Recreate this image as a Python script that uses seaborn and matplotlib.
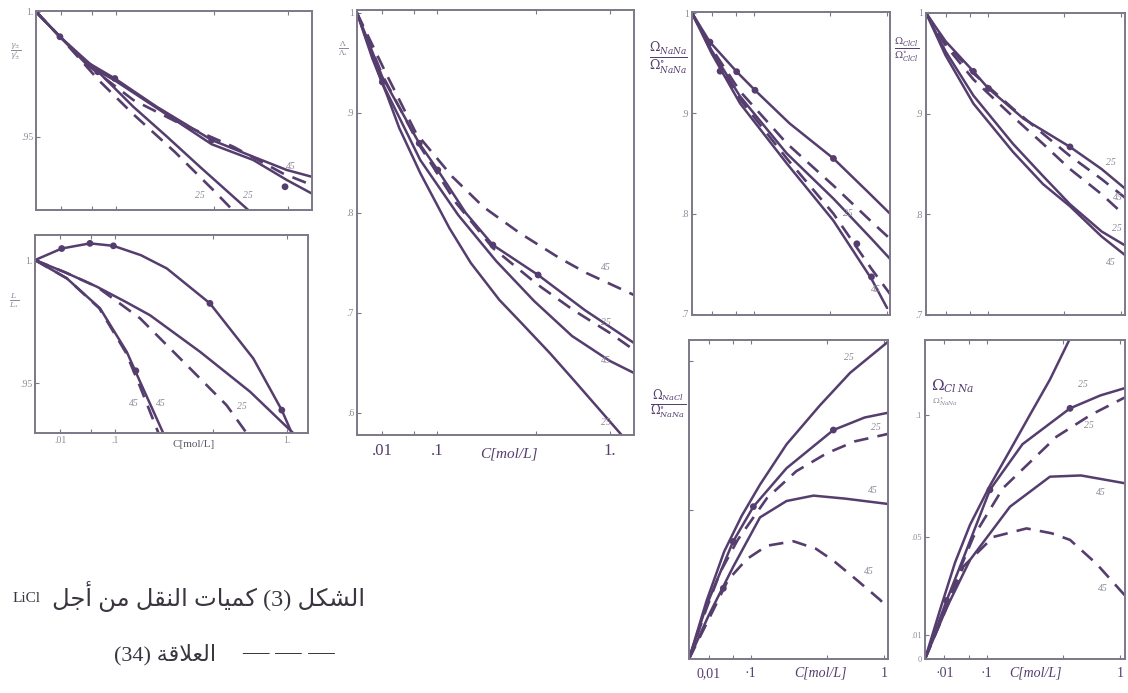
import numpy as np
import matplotlib
matplotlib.use("Agg")
import matplotlib.pyplot as plt
import seaborn as sns

# x of every curve is sqrt(C), C in mol/L ; y is the reduced quantity
# ---- panel A : gamma / gamma0
a45_x = [0, 0.095, 0.2, 0.313, 0.479, 0.697, 0.862, 0.995, 1.094]
a45_y = [1, 0.990, 0.980, 0.9733, 0.962, 0.9487, 0.942, 0.9367, 0.934]
a45b_x = [0, 0.095, 0.2, 0.313, 0.479, 0.697, 0.862, 0.995, 1.094]
a45b_y = [1, 0.990, 0.979, 0.9725, 0.9615, 0.947, 0.9407, 0.9327, 0.9273]
a45d_x = [0, 0.2, 0.386, 0.557, 0.783, 0.98, 1.094]
a45d_y = [1, 0.979, 0.9647, 0.956, 0.946, 0.9353, 0.9307]
a25_x = [0, 0.095, 0.227, 0.386, 0.52, 0.65, 0.842]
a25_y = [1, 0.990, 0.978, 0.962, 0.950, 0.938, 0.9207]
a25d_x = [0, 0.095, 0.25, 0.386, 0.55, 0.7, 0.78]
a25d_y = [1, 0.990, 0.9725, 0.959, 0.944, 0.929, 0.9207]
a_dots_x = [0.095, 0.245, 0.313, 0.697, 0.988]
a_dots_y = [0.990, 0.976, 0.9733, 0.9487, 0.930]

# ---- panel B : L / L0
b25_top_x = [0, 0.106, 0.218, 0.311, 0.42, 0.523, 0.694, 0.866, 0.979, 1.019]
b25_top_y = [1, 1.0047, 1.0068, 1.0058, 1.002, 0.9966, 0.9824, 0.960, 0.939, 0.9296]
b25_x = [0, 0.12, 0.245, 0.36, 0.456, 0.655, 0.853, 1.025]
b25_y = [1, 0.995, 0.9892, 0.983, 0.9776, 0.9627, 0.9465, 0.9296]
b25d_x = [0, 0.12, 0.245, 0.417, 0.602, 0.76, 0.84]
b25d_y = [1, 0.995, 0.9892, 0.9763, 0.9573, 0.941, 0.9296]
b43_x = [0, 0.126, 0.258, 0.364, 0.417, 0.509]
b43_y = [1, 0.9926, 0.9804, 0.9627, 0.9505, 0.9296]
b43d_x = [0, 0.126, 0.255, 0.36, 0.41, 0.49]
b43d_y = [1, 0.9926, 0.9804, 0.9625, 0.9503, 0.9296]
b_dots_x = [0.106, 0.218, 0.311, 0.694, 0.979, 0.40]
b_dots_y = [1.0047, 1.0068, 1.0058, 0.9824, 0.939, 0.955]

# ---- panel C : Lambda / Lambda0
c45d_x = [0, 0.114, 0.233, 0.378, 0.5, 0.643, 0.8, 0.907, 1.095]
c45d_y = [1, 0.940, 0.880, 0.836, 0.806, 0.780, 0.755, 0.740, 0.718]
c25_x = [0, 0.1, 0.246, 0.319, 0.43, 0.537, 0.716, 0.9, 1.095]
c25_y = [1, 0.936, 0.8697, 0.843, 0.800, 0.768, 0.738, 0.703, 0.670]
c25d_x = [0, 0.1, 0.246, 0.392, 0.537, 0.716, 0.855, 1.0, 1.095]
c25d_y = [1, 0.938, 0.868, 0.810, 0.765, 0.728, 0.703, 0.680, 0.663]
c43_x = [0, 0.1, 0.25, 0.4, 0.55, 0.7, 0.85, 1.0, 1.095]
c43_y = [1, 0.930, 0.853, 0.798, 0.752, 0.712, 0.677, 0.652, 0.640]
c_low_x = [0, 0.06, 0.12, 0.167, 0.25, 0.365, 0.45, 0.563, 0.65, 0.762, 0.86, 0.96, 1.046]
c_low_y = [1, 0.955, 0.917, 0.885, 0.840, 0.785, 0.750, 0.713, 0.690, 0.660, 0.632, 0.603, 0.578]
c_dots_x = [0.1, 0.246, 0.319, 0.537, 0.716]
c_dots_y = [0.931, 0.8697, 0.843, 0.768, 0.738]

# ---- panel D : Omega_NaNa / Omega0_NaNa
d25_x = [0, 0.092, 0.229, 0.323, 0.5, 0.725, 0.9, 1.015]
d25_y = [1, 0.971, 0.9415, 0.923, 0.890, 0.855, 0.822, 0.800]
d_d1_x = [0, 0.1, 0.246, 0.486, 0.725, 0.92, 1.015]
d_d1_y = [1, 0.965, 0.922, 0.870, 0.828, 0.792, 0.775]
d_s2_x = [0, 0.1, 0.246, 0.486, 0.725, 0.92, 1.015]
d_s2_y = [1, 0.963, 0.917, 0.860, 0.815, 0.775, 0.755]
d_d2_x = [0, 0.1, 0.246, 0.486, 0.725, 0.92, 1.015]
d_d2_y = [1, 0.962, 0.914, 0.855, 0.800, 0.745, 0.720]
d43_x = [0, 0.1, 0.246, 0.486, 0.725, 0.92, 1.0]
d43_y = [1, 0.960, 0.910, 0.850, 0.793, 0.735, 0.706]
d_dots_x = [0.092, 0.229, 0.323, 0.725, 0.144, 0.845, 0.92]
d_dots_y = [0.971, 0.9415, 0.923, 0.855, 0.942, 0.77, 0.737]

# ---- panel E : Omega_ClCl / Omega0_ClCl
e25_x = [0, 0.1, 0.243, 0.32, 0.5, 0.738, 0.9, 1.03]
e25_y = [1, 0.972, 0.942, 0.925, 0.895, 0.867, 0.845, 0.824]
e_d1_x = [0, 0.1, 0.243, 0.446, 0.6, 0.738, 0.9, 1.03]
e_d1_y = [1, 0.970, 0.940, 0.905, 0.880, 0.858, 0.835, 0.815]
e_d2_x = [0, 0.1, 0.243, 0.446, 0.6, 0.738, 0.9, 0.99]
e_d2_y = [1, 0.968, 0.934, 0.897, 0.870, 0.845, 0.820, 0.804]
e_s2_x = [0, 0.1, 0.243, 0.446, 0.6, 0.738, 0.9, 1.03]
e_s2_y = [1, 0.962, 0.918, 0.870, 0.838, 0.810, 0.783, 0.768]
e43_x = [0, 0.1, 0.243, 0.446, 0.6, 0.738, 0.9, 1.03]
e43_y = [1, 0.958, 0.910, 0.862, 0.830, 0.808, 0.778, 0.758]
e_dots_x = [0.243, 0.32, 0.738]
e_dots_y = [0.942, 0.925, 0.867]

# ---- panel F : Omega_NaCl / Omega0_NaNa
f25_top_x = [0, 0.09, 0.18, 0.27, 0.364, 0.5, 0.67, 0.826, 1.02]
f25_top_y = [0, 0.0195, 0.036, 0.048, 0.0585, 0.072, 0.085, 0.096, 0.1064]
f25_x = [0, 0.09, 0.226, 0.33, 0.5, 0.74, 0.9, 1.02]
f25_y = [0, 0.018, 0.0394, 0.0511, 0.064, 0.0768, 0.081, 0.0826]
f25d_x = [0, 0.09, 0.159, 0.25, 0.4, 0.55, 0.706, 0.85, 1.02]
f25d_y = [0, 0.017, 0.029, 0.040, 0.054, 0.063, 0.069, 0.073, 0.0755]
f43_x = [0, 0.1, 0.227, 0.364, 0.5, 0.638, 0.8, 1.02]
f43_y = [0, 0.0145, 0.031, 0.0475, 0.053, 0.0548, 0.0538, 0.052]
f43d_x = [0, 0.125, 0.2, 0.296, 0.4, 0.535, 0.65, 0.74, 0.86, 0.98, 1.02]
f43d_y = [0, 0.0165, 0.0265, 0.0335, 0.038, 0.0395, 0.037, 0.033, 0.0265, 0.0198, 0.017]
f_dots_x = [0.226, 0.33, 0.74, 0.176]
f_dots_y = [0.0394, 0.0511, 0.0768, 0.0237]

# ---- panel G : Omega_ClNa / Omega0
g25_top_x = [0, 0.077, 0.154, 0.231, 0.333, 0.436, 0.538, 0.641, 0.74]
g25_top_y = [0, 0.0201, 0.0395, 0.055, 0.071, 0.0855, 0.100, 0.1145, 0.1307]
g25_x = [0, 0.111, 0.2, 0.333, 0.5, 0.744, 0.9, 1.026]
g25_y = [0, 0.024, 0.042, 0.0693, 0.088, 0.1027, 0.108, 0.111]
g25d_x = [0, 0.111, 0.18, 0.248, 0.4, 0.675, 0.85, 1.026]
g25d_y = [0, 0.022, 0.037, 0.050, 0.070, 0.0911, 0.100, 0.1072]
g43_x = [0, 0.111, 0.231, 0.436, 0.641, 0.8, 1.026]
g43_y = [0, 0.021, 0.0406, 0.0624, 0.0747, 0.0752, 0.072]
g43d_x = [0, 0.111, 0.197, 0.35, 0.521, 0.65, 0.744, 0.88, 1.026]
g43d_y = [0, 0.021, 0.0379, 0.050, 0.0535, 0.0515, 0.0488, 0.039, 0.026]
g_dots_x = [0.111, 0.333, 0.744]
g_dots_y = [0.024, 0.0693, 0.1027]

conc_ticks = [0.01, 0.05, 0.1, 0.5, 1.0]

INK = "#553d6e"
FRAME = "#7d7888"
FAINT = "#8f8a99"
DASH = (0, (5.5, 3.5))

sns.set_style("white")
plt.rcParams["font.family"] = ["Liberation Serif", "DejaVu Sans"]
plt.rcParams["mathtext.fontset"] = "dejavuserif"

W, H = 1128, 693
fig = plt.figure(figsize=(W / 100, H / 100), dpi=100)


def box(l, r, t, b):
    return fig.add_axes([l / W, 1 - b / H, (r - l) / W, (b - t) / H])


def panel(ax, solids, dashes, dots, xlim, ylim, yticks, ylabels, xlabels=None):
    for x, y in solids:
        sns.lineplot(x=x, y=y, ax=ax, color=INK, lw=1.8, sort=False,
                     estimator=None, legend=False)
    for x, y in dashes:
        sns.lineplot(x=x, y=y, ax=ax, color=INK, lw=1.9, ls=DASH, sort=False,
                     estimator=None, legend=False)
    sns.scatterplot(x=dots[0], y=dots[1], ax=ax, color=INK, s=24,
                    edgecolor="none", legend=False, zorder=5)
    ax.set_xlim(*xlim)
    ax.set_ylim(*ylim)
    ax.set_xticks(np.sqrt(conc_ticks))
    if xlabels is None:
        ax.set_xticklabels([])
    else:
        ax.set_xticklabels(xlabels)
    ax.set_yticks(yticks)
    ax.set_yticklabels(ylabels)
    ax.set_xlabel("")
    ax.set_ylabel("")
    ax.tick_params(direction="in", length=3, width=0.8, color=FRAME,
                   top=True, bottom=True, left=True, right=False,
                   labelsize=7, labelcolor=FAINT, pad=2)
    for sp in ax.spines.values():
        sp.set_color(FRAME)
        sp.set_linewidth(1.4)


def temp(ax, x, y, t):
    ax.text(x, y, t, fontsize=7, color=FAINT, style="italic", ha="center", va="center")


xl = [".01", "", ".1", "", "1."]

# A
axA = box(36, 312, 11, 210)
panel(axA, [(a45_x, a45_y), (a45b_x, a45b_y), (a25_x, a25_y)],
      [(a45d_x, a45d_y), (a25d_x, a25d_y)], (a_dots_x, a_dots_y),
      (0, 1.095), (0.9207, 1.0003), [0.95, 1.0], [".95", "1."])
temp(axA, 1.01, 0.938, "45")
temp(axA, 0.65, 0.9265, "25")
temp(axA, 0.84, 0.9265, "25")
fig.text(16 / W, 1 - 52 / H, r"$\frac{\gamma_{\pm}}{\gamma_{\pm}^{\circ}}$", fontsize=8,
         color=FAINT, ha="center", va="center")

# B
axB = box(35, 308, 235, 433)
panel(axB, [(b25_top_x, b25_top_y), (b25_x, b25_y), (b43_x, b43_y)],
      [(b25d_x, b25d_y), (b43d_x, b43d_y)], (b_dots_x, b_dots_y),
      (0, 1.083), (0.9297, 1.0102), [0.95, 1.0], [".95", "1."], xl)
axB.text(0.58, -0.06, "C[mol/L]", transform=axB.transAxes, fontsize=8,
         color="#5a5466", ha="center", va="center")
temp(axB, 0.393, 0.9415, "45")
temp(axB, 0.50, 0.9415, "45")
temp(axB, 0.82, 0.9405, "25")
fig.text(14 / W, 1 - 300 / H, r"$\frac{L}{L_{\circ}}$", fontsize=8,
         color=FAINT, ha="center", va="center")

# C
axC = box(357, 634, 10, 435)
panel(axC, [(c25_x, c25_y), (c43_x, c43_y), (c_low_x, c_low_y)],
      [(c45d_x, c45d_y), (c25d_x, c25d_y)], (c_dots_x, c_dots_y),
      (0, 1.095), (0.578, 1.003), [0.6, 0.7, 0.8, 0.9, 1.0],
      [".6", ".7", ".8", ".9", "1"], [".01", "", ".1", "", "1."])
axC.tick_params(axis="x", labelsize=12, labelcolor=INK, pad=6)
axC.text(0.55, -0.045, "C[mol/L]", transform=axC.transAxes, fontsize=11,
         color=INK, ha="center", va="center", style="italic")
temp(axC, 0.985, 0.745, "45")
temp(axC, 0.985, 0.690, "25")
temp(axC, 0.985, 0.652, "45")
temp(axC, 0.985, 0.590, "25")
fig.text(343 / W, 1 - 48 / H, r"$\frac{\Lambda}{\Lambda_{\circ}}$", fontsize=8,
         color=FAINT, ha="center", va="center")

# D
axD = box(692, 890, 12, 315)
panel(axD, [(d25_x, d25_y), (d_s2_x, d_s2_y), (d43_x, d43_y)],
      [(d_d1_x, d_d1_y), (d_d2_x, d_d2_y)], (d_dots_x, d_dots_y),
      (0, 1.015), (0.699, 1.001), [0.7, 0.8, 0.9, 1.0], [".7", ".8", ".9", "1"])
temp(axD, 0.80, 0.80, "25")
temp(axD, 0.94, 0.724, "45")
fig.text(668 / W, 1 - 58 / H, r"$\frac{\Omega_{NaNa}}{\Omega^{\circ}_{NaNa}}$",
         fontsize=13, color=INK, ha="center", va="center")

# E
axE = box(926, 1125, 13, 315)
panel(axE, [(e25_x, e25_y), (e_s2_x, e_s2_y), (e43_x, e43_y)],
      [(e_d1_x, e_d1_y), (e_d2_x, e_d2_y)], (e_dots_x, e_dots_y),
      (0, 1.02), (0.7, 1.0), [0.7, 0.8, 0.9, 1.0], [".7", ".8", ".9", "1"])
temp(axE, 0.95, 0.851, "25")
temp(axE, 0.985, 0.817, "45")
temp(axE, 0.98, 0.786, "25")
temp(axE, 0.95, 0.752, "45")
fig.text(907 / W, 1 - 50 / H, r"$\frac{\Omega_{ClCl}}{\Omega^{\circ}_{ClCl}}$",
         fontsize=10, color=INK, ha="center", va="center")

# F
axF = box(689, 888, 340, 659)
panel(axF, [(f25_top_x, f25_top_y), (f25_x, f25_y), (f43_x, f43_y)],
      [(f25d_x, f25d_y), (f43d_x, f43d_y)], (f_dots_x, f_dots_y),
      (0, 1.02), (0, 0.107), [0.05, 0.1], ["", ""],
      ["0,01", "", "·1", "", "1"])
axF.tick_params(axis="x", labelsize=10, labelcolor=INK, pad=6)
axF.text(0.66, -0.045, "C[mol/L]", transform=axF.transAxes, fontsize=10,
         color=INK, ha="center", va="center", style="italic")
temp(axF, 0.82, 0.101, "25")
temp(axF, 0.96, 0.0775, "25")
temp(axF, 0.944, 0.0565, "45")
temp(axF, 0.92, 0.0295, "45")
fig.text(668 / W, 1 - 405 / H, r"$\frac{\Omega_{NaCl}}{\Omega^{\circ}_{NaNa}}$",
         fontsize=12, color=INK, ha="center", va="center")

# G
axG = box(925, 1125, 340, 659)
panel(axG, [(g25_top_x, g25_top_y), (g25_x, g25_y), (g43_x, g43_y)],
      [(g25d_x, g25d_y), (g43d_x, g43d_y)], (g_dots_x, g_dots_y),
      (0, 1.026), (0, 0.1307), [0, 0.01, 0.05, 0.1], ["0", ".01", ".05", ".1"],
      ["·01", "", "·1", "", "1"])
axG.tick_params(axis="x", labelsize=10, labelcolor=INK, pad=6)
axG.tick_params(axis="y", labelsize=6)
axG.text(0.55, -0.045, "C[mol/L]", transform=axG.transAxes, fontsize=10,
         color=INK, ha="center", va="center", style="italic")
temp(axG, 0.81, 0.1123, "25")
temp(axG, 0.84, 0.0955, "25")
temp(axG, 0.90, 0.0684, "45")
temp(axG, 0.913, 0.029, "45")
fig.text(953 / W, 1 - 386 / H, r"$\Omega_{Cl\,Na}$", fontsize=11, color=INK,
         ha="center", va="center")
fig.text(945 / W, 1 - 402 / H, r"$\Omega^{\circ}_{NaNa}$", fontsize=6, color=FAINT,
         ha="center", va="center")

# caption (Arabic, shaped by hand into presentation forms, visual order)
AR = {
    "ا": ("\ufe8d", "\ufe8e", None, None),
    "أ": ("\ufe83", "\ufe84", None, None),
    "ة": ("\ufe93", "\ufe94", None, None),
    "ت": ("\ufe95", "\ufe96", "\ufe97", "\ufe98"),
    "ج": ("\ufe9d", "\ufe9e", "\ufe9f", "\ufea0"),
    "ش": ("\ufeb5", "\ufeb6", "\ufeb7", "\ufeb8"),
    "ع": ("\ufec9", "\ufeca", "\ufecb", "\ufecc"),
    "ق": ("\ufed5", "\ufed6", "\ufed7", "\ufed8"),
    "ك": ("\ufed9", "\ufeda", "\ufedb", "\ufedc"),
    "ل": ("\ufedd", "\ufede", "\ufedf", "\ufee0"),
    "م": ("\ufee1", "\ufee2", "\ufee3", "\ufee4"),
    "ن": ("\ufee5", "\ufee6", "\ufee7", "\ufee8"),
    "ي": ("\ufef1", "\ufef2", "\ufef3", "\ufef4"),
}
LAM_ALEF = {"ا": ("\ufefb", "\ufefc"), "أ": ("\ufef7", "\ufef8")}


def shape(word):
    out, prev, i = [], False, 0
    while i < len(word):
        ch = word[i]
        nxt = word[i + 1] if i + 1 < len(word) else None
        if ch == "ل" and nxt in LAM_ALEF:
            out.append(LAM_ALEF[nxt][1 if prev else 0])
            prev = False
            i += 2
            continue
        iso, fin, ini, med = AR[ch]
        joins = ini is not None and nxt is not None
        out.append(med if (prev and joins) else fin if prev else ini if joins else iso)
        prev = joins
        i += 1
    return "".join(reversed(out))


def visual(tokens):
    parts = []
    for t in reversed(tokens):
        parts.append(shape(t) if t[0] in AR else t)
    return " ".join(parts)


line1 = visual(["الشكل", "(3)", "كميات", "النقل", "من", "أجل"])
line2 = visual(["العلاقة", "(34)"])
TXT = "#3a3540"
fig.text(365 / W, 1 - 597 / H, line1, fontsize=17.5, color=TXT,
         ha="right", va="center")
fig.text(13 / W, 1 - 599 / H, "LiCl", fontsize=11, color=TXT,
         ha="left", va="center")
fig.text(216 / W, 1 - 655 / H, line2, fontsize=16, color=TXT,
         ha="right", va="center")
fig.text(288 / W, 1 - 653 / H, "— — —", fontsize=19, color=TXT,
         ha="center", va="center")

fig.savefig("out.png", dpi=100)
